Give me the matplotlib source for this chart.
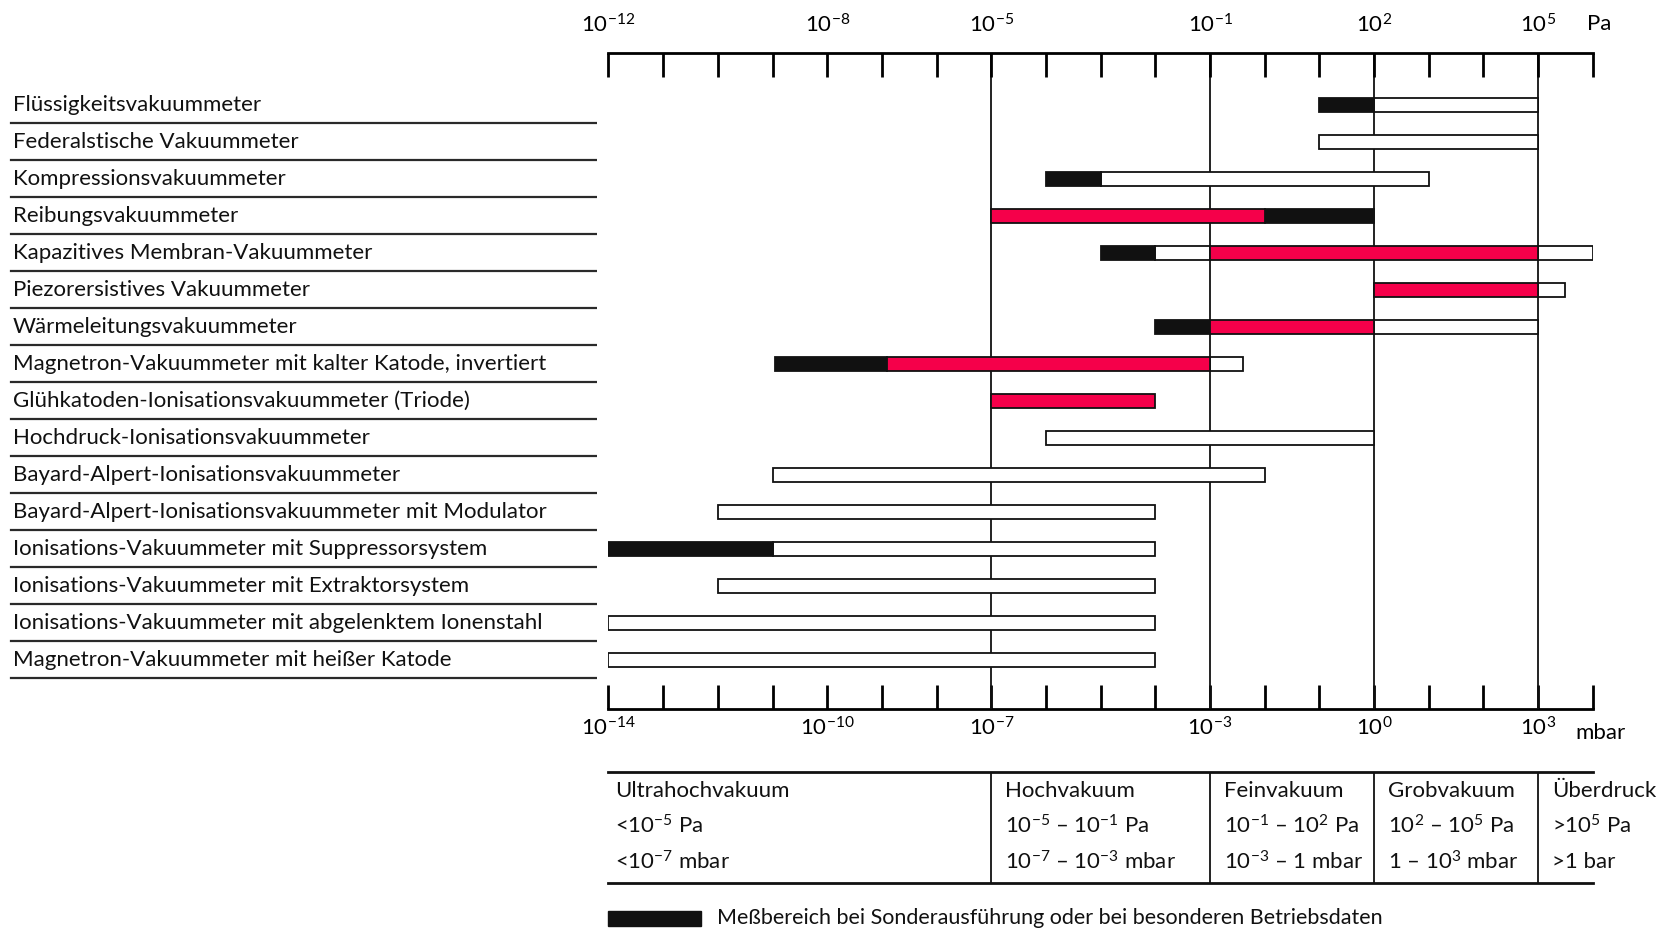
import matplotlib
matplotlib.use("Agg")
import matplotlib.pyplot as plt
from matplotlib.patches import Rectangle

FONT = "Lato"
plt.rcParams["font.family"] = [FONT, "DejaVu Sans"]
plt.rcParams["mathtext.fontset"] = "custom"
plt.rcParams["mathtext.rm"] = FONT
plt.rcParams["mathtext.it"] = FONT + ":italic"
plt.rcParams["mathtext.bf"] = FONT + ":bold"

RED = "#f5004a"
INK = "#111111"

# ── data: gauge names and ranges (row, log10 Pa from, log10 Pa to) ──────────
gauges = [
    "Flüssigkeitsvakuummeter",
    "Federalstische Vakuummeter",
    "Kompressionsvakuummeter",
    "Reibungsvakuummeter",
    "Kapazitives Membran-Vakuummeter",
    "Piezorersistives Vakuummeter",
    "Wärmeleitungsvakuummeter",
    "Magnetron-Vakuummeter mit kalter Katode, invertiert",
    "Glühkatoden-Ionisationsvakuummeter (Triode)",
    "Hochdruck-Ionisationsvakuummeter",
    "Bayard-Alpert-Ionisationsvakuummeter",
    "Bayard-Alpert-Ionisationsvakuummeter mit Modulator",
    "Ionisations-Vakuummeter mit Suppressorsystem",
    "Ionisations-Vakuummeter mit Extraktorsystem",
    "Ionisations-Vakuummeter mit abgelenktem Ionenstahl",
    "Magnetron-Vakuummeter mit heißer Katode",
]

white_segs = [
    (0, 2, 5), (1, 1, 5), (2, -3, 3), (4, -2, -1), (4, 5, 6), (5, 5, 5.5),
    (6, 2, 5), (7, -1, -0.4), (9, -4, 2), (10, -9, 0), (11, -10, -2),
    (12, -9, -2), (13, -10, -2), (14, -12, -2), (15, -12, -2),
]
red_segs = [
    (3, -5, 0), (4, -1, 5), (5, 2, 5), (6, -1, 2), (7, -6.9, -1), (8, -5, -2),
]
black_segs = [
    (0, 1, 2), (2, -4, -3), (3, 0, 2), (4, -3, -2), (6, -2, -1),
    (7, -8.95, -6.9), (12, -12, -9),
]

pa_exps = list(range(-12, 7))
pa_labeled = [-12, -8, -5, -1, 2, 5]
mbar_labeled = [-14, -10, -7, -3, 0, 3]
zone_bounds = [-5, -1, 2, 5]

zones = [
    (-12, ["Ultrahochvakuum", r"<$10^{-5}$ Pa", r"<$10^{-7}$ mbar"]),
    (-5, ["Hochvakuum", r"$10^{-5}$ – $10^{-1}$ Pa", r"$10^{-7}$ – $10^{-3}$ mbar"]),
    (-1, ["Feinvakuum", r"$10^{-1}$ – $10^{2}$ Pa", r"$10^{-3}$ – 1 mbar"]),
    (2, ["Grobvakuum", r"$10^{2}$ – $10^{5}$ Pa", r"1 – $10^{3}$ mbar"]),
    (5, ["Überdruck", r">$10^{5}$ Pa", r">1 bar"]),
]

legend_text = "Meßbereich bei Sonderausführung oder bei besonderen Betriebsdaten"

# ── layout ─────────────────────────────────────────────────────────────────
fig = plt.figure(figsize=(16.65, 9.34), dpi=100, facecolor="white")
W, H = 1568.0, 880.0
x0, x1 = 573 / W, 1500 / W
yt, yb = 50 / H, 668 / H
ax = fig.add_axes([x0, 1 - yb, x1 - x0, yb - yt])
lax = fig.add_axes([0, 1 - yb, 562 / W, yb - yt])

row_top = (50 - 99) / 34.85
row_bot = (668 - 99) / 34.85

ax.set_xscale("log")
ax.set_xlim(1e-12, 1e6)
ax.set_ylim(row_bot, row_top)
ax.set_facecolor("none")
for s in ["left", "right", "bottom"]:
    ax.spines[s].set_visible(False)
ax.spines["top"].set_linewidth(2)
ax.set_yticks([])

ax.xaxis.set_ticks_position("top")
ax.set_xticks([10.0 ** e for e in pa_exps])
ax.set_xticklabels([rf"$10^{{{e}}}$" if e in pa_labeled else "" for e in pa_exps],
                   fontsize=16)
ax.minorticks_off()
ax.tick_params(axis="x", which="both", direction="in", length=17, width=2,
               pad=12, top=True, bottom=False, labeltop=True, labelbottom=False)

sec = ax.secondary_xaxis("bottom", functions=(lambda v: v / 100, lambda v: v * 100))
mbar_exps = [e - 2 for e in pa_exps]
sec.set_xticks([10.0 ** e for e in mbar_exps])
sec.set_xticklabels([rf"$10^{{{e}}}$" if e in mbar_labeled else "" for e in mbar_exps],
                    fontsize=16)
sec.minorticks_off()
sec.tick_params(axis="x", which="both", direction="in", length=17, width=2, pad=5)
sec.spines["bottom"].set_linewidth(2)

for e in zone_bounds:
    ax.axvline(10.0 ** e, color=INK, lw=1.3, zorder=1)

ax.text(0.994, 1.045, "Pa", transform=ax.transAxes, fontsize=16, va="center")
ax.text(0.982, -0.036, "mbar", transform=ax.transAxes, fontsize=16, va="center")

bh = 0.40
for segs, face in [(white_segs, "white"), (black_segs, INK), (red_segs, RED)]:
    for r, lo, hi in segs:
        ax.barh(r, 10.0 ** hi - 10.0 ** lo, left=10.0 ** lo, height=bh,
                color=face, edgecolor=INK, lw=1.3, zorder=3)

# ── row labels with rules ──────────────────────────────────────────────────
lax.set_xlim(0, 1)
lax.set_ylim(row_bot, row_top)
lax.axis("off")
for i, name in enumerate(gauges):
    lax.text(0.021, i, name, fontsize=16, va="center", ha="left", color=INK)
    lax.plot([0.018, 1], [i + 0.48, i + 0.48], color="#2a2a2a", lw=1.6)

# ── vacuum ranges table ────────────────────────────────────────────────────
tax = fig.add_axes([x0, 1 - 832 / H, x1 - x0, (832 - 727) / H])
tax.set_xscale("log")
tax.set_xlim(1e-12, 1e6)
tax.set_ylim(0, 1)
tax.axis("off")
tax.plot([1e-12, 1e6], [1, 1], color=INK, lw=2, clip_on=False)
tax.plot([1e-12, 1e6], [0, 0], color=INK, lw=2, clip_on=False)
for e in zone_bounds:
    tax.plot([10.0 ** e] * 2, [0, 1], color=INK, lw=1.3)
for e, lines in zones:
    dx = 6 if e == -12 else 13
    for k, txt in enumerate(lines):
        tax.annotate(txt, xy=(10.0 ** e, [0.83, 0.51, 0.19][k]),
                     xytext=(dx * 1.06, 0), textcoords="offset pixels",
                     fontsize=16, va="center", ha="left", color=INK,
                     annotation_clip=False)

# ── legend ─────────────────────────────────────────────────────────────────
fig.patches.append(Rectangle((573 / W, 1 - 872 / H), 87 / W, 14 / H,
                             transform=fig.transFigure, facecolor=INK,
                             edgecolor=INK))
fig.text(675 / W, 1 - 865 / H, legend_text, fontsize=15.5, va="center", ha="left",
         color=INK)

fig.savefig("out.png", dpi=100, facecolor="white")
